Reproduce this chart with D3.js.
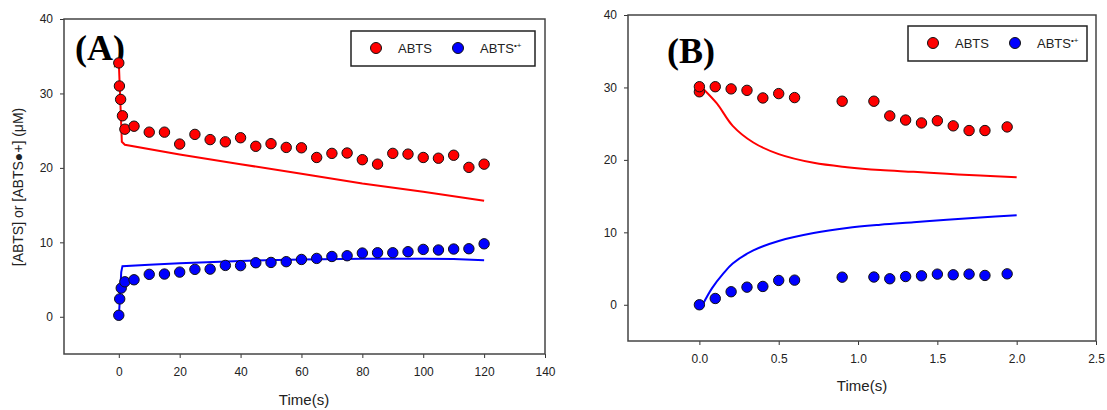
<!DOCTYPE html>
<html>
<head>
<script src="https://d3js.org/d3.v7.min.js"></script>
<style>
    body { margin: 0; background: #fff; }
    svg { font-family: "Liberation Sans", Arial, sans-serif; }
    .axis path { display: none; }
    .axis line { stroke: #333; stroke-width: 1; }
</style>
</head>
<body>
<svg id="chart" width="1107" height="410"></svg>
<script>
// ---- panel A data (time in s, concentration in uM)
var abtsTimeA = [0, 0.2, 0.6, 1.2, 2, 5, 10, 15, 20, 25, 30, 35, 40, 45, 50, 55, 60, 65, 70, 75, 80, 85, 90, 95, 100, 105, 110, 115, 120];
var abtsA = [34.1, 31.0, 29.2, 27.0, 25.2, 25.6, 24.8, 24.8, 23.2, 24.5, 23.8, 23.5, 24.05, 22.9, 23.25, 22.75, 22.7, 21.4, 21.95, 22.0, 21.1, 20.5, 21.95, 21.85, 21.4, 21.3, 21.7, 20.07, 20.5];
var radTimeA = [0, 0.3, 0.8, 2, 5, 10, 15, 20, 25, 30, 35, 40, 45, 50, 55, 60, 65, 70, 75, 80, 85, 90, 95, 100, 105, 110, 115, 120];
var radA = [0.2, 2.4, 3.85, 4.7, 4.97, 5.7, 5.74, 6.0, 6.37, 6.4, 6.9, 6.87, 7.26, 7.3, 7.4, 7.7, 7.84, 8.1, 8.2, 8.56, 8.6, 8.6, 8.74, 9.05, 8.97, 9.1, 9.14, 9.8];
// model curves A
var fitTimeA = [0, 0.5, 1, 2, 20, 40, 60, 80, 100, 120];
var abtsFitA = [34.2, 29, 23.5, 23.1, 21.8, 20.5, 19.2, 17.9, 16.8, 15.6];
var radFitTimeA = [0, 0.3, 0.8, 1.2, 10, 20, 40, 60, 80, 100, 110, 120];
var radFitA = [0, 2, 6, 6.8, 7.0, 7.2, 7.5, 7.7, 7.8, 7.8, 7.75, 7.6];

// ---- panel B data
var abtsTimeB = [0, 0, 0.1, 0.2, 0.3, 0.4, 0.5, 0.6, 0.9, 1.1, 1.2, 1.3, 1.4, 1.5, 1.6, 1.7, 1.8, 1.94];
var abtsB = [29.4, 30.1, 30.1, 29.8, 29.6, 28.55, 29.15, 28.6, 28.1, 28.1, 26.07, 25.5, 25.1, 25.4, 24.7, 24.05, 24.05, 24.55];
var radTimeB = [0, 0.1, 0.2, 0.3, 0.4, 0.5, 0.6, 0.9, 1.1, 1.2, 1.3, 1.4, 1.5, 1.6, 1.7, 1.8, 1.94];
var radB = [0, 0.87, 1.8, 2.43, 2.53, 3.36, 3.4, 3.81, 3.83, 3.59, 3.9, 4.0, 4.23, 4.14, 4.23, 4.05, 4.27];
// model curves B
var abtsFitTimeB = [0.02, 0.11, 0.21, 0.34, 0.5, 0.72, 0.93, 1.14, 1.35, 1.56, 1.77, 2.0];
var abtsFitB = [29.9, 27.8, 24.7, 22.4, 20.8, 19.6, 19.0, 18.6, 18.35, 18.07, 17.84, 17.6];
var radFitTimeB = [0.02, 0.08, 0.15, 0.21, 0.34, 0.5, 0.72, 0.93, 1.14, 1.35, 1.56, 1.77, 2.0];
var radFitB = [0, 2.3, 4.3, 5.7, 7.5, 8.8, 9.9, 10.6, 11.05, 11.4, 11.75, 12.05, 12.37];

var yTicks = [0, 10, 20, 30, 40];
var xTicksA = [0, 20, 40, 60, 80, 100, 120, 140];
var xTicksB = [0, 0.5, 1.0, 1.5, 2.0, 2.5];
var legendLabels = ["ABTS", "ABTS"];

var svg = d3.select("#chart");

function zip(xs, ys) {
    return xs.map(function(x, i) { return [x, ys[i]]; });
}

function panel(p) {
    var g = svg.append("g");
    var x = d3.scaleLinear().domain(p.xDomain).range([p.left, p.right]);
    var y = d3.scaleLinear().domain([-5, 40]).range([p.bottom, p.top]);

    g.append("g")
        .attr("class", "axis")
        .attr("transform", "translate(" + p.left + ",0)")
        .call(d3.axisLeft(y).tickValues(yTicks).tickSize(4).tickPadding(7).tickSizeOuter(0));

    g.append("g")
        .attr("class", "axis")
        .attr("transform", "translate(0," + p.bottom + ")")
        .call(d3.axisBottom(x).tickValues(p.xTicks).tickFormat(d3.format(p.xFormat))
            .tickSize(4).tickPadding(9).tickSizeOuter(0));
    g.selectAll(".axis text").style("font-size", "12px").attr("fill", "#222")
        .style("font-family", "'Liberation Sans', Arial, sans-serif");

    var line = d3.line()
        .x(function(d) { return x(d[0]); })
        .y(function(d) { return y(d[1]); })
        .curve(p.curve);

    g.append("path")
        .attr("d", line(p.redFit))
        .attr("fill", "none").attr("stroke", "#ff0000").attr("stroke-width", 2);
    g.append("path")
        .attr("d", line(p.blueFit))
        .attr("fill", "none").attr("stroke", "#0000ff").attr("stroke-width", 2);

    g.append("text")
        .attr("x", p.tagX).attr("y", p.tagY)
        .style("font-family", "'Liberation Serif', 'Times New Roman', serif")
        .style("font-weight", "bold")
        .style("font-size", "36px")
        .text(p.tag);

    g.selectAll(null).data(p.red).enter().append("circle")
        .attr("cx", function(d) { return x(d[0]); })
        .attr("cy", function(d) { return y(d[1]); })
        .attr("r", 5.2)
        .attr("fill", "#ff0000").attr("stroke", "#111").attr("stroke-width", 1);
    g.selectAll(null).data(p.blue).enter().append("circle")
        .attr("cx", function(d) { return x(d[0]); })
        .attr("cy", function(d) { return y(d[1]); })
        .attr("r", 5.2)
        .attr("fill", "#0000ff").attr("stroke", "#111").attr("stroke-width", 1);

    // frame
    g.append("rect")
        .attr("x", p.left).attr("y", p.top)
        .attr("width", p.right - p.left).attr("height", p.bottom - p.top)
        .attr("fill", "none").attr("stroke", "#444").attr("stroke-width", 1.5);

    // legend
    var lg = g.append("g").attr("transform", "translate(" + p.legX + "," + p.legY + ")");
    lg.append("rect").attr("width", p.legW).attr("height", 35)
        .attr("fill", "#fff").attr("stroke", "#222").attr("stroke-width", 1.5);
    lg.append("circle").attr("cx", 25).attr("cy", 17).attr("r", 5.5)
        .attr("fill", "#ff0000").attr("stroke", "#111");
    lg.append("text").attr("x", 47).attr("y", 21.5).style("font-size", "13px").attr("fill", "#222")
        .text(legendLabels[0]);
    lg.append("circle").attr("cx", 107).attr("cy", 17).attr("r", 5.5)
        .attr("fill", "#0000ff").attr("stroke", "#111");
    var t2 = lg.append("text").attr("x", 129).attr("y", 21.5).style("font-size", "13px").attr("fill", "#222")
        .text(legendLabels[1]);
    t2.append("tspan").attr("dy", -5).style("font-size", "8px").text("\u2022+");

    g.append("text")
        .attr("x", (p.left + p.right) / 2 + p.xLabelShift).attr("y", p.xLabelY)
        .attr("text-anchor", "middle")
        .style("font-size", "15px").attr("fill", "#222")
        .text("Time(s)");
    return g;
}

panel({
    tag: "(A)", tagX: 75, tagY: 60,
    left: 64, right: 545, top: 19, bottom: 354,
    xDomain: [-18, 140], xTicks: xTicksA, xFormat: "d",
    red: zip(abtsTimeA, abtsA), blue: zip(radTimeA, radA),
    redFit: zip(fitTimeA, abtsFitA), blueFit: zip(radFitTimeA, radFitA),
    curve: d3.curveLinear,
    legX: 351, legY: 31, legW: 184,
    xLabelY: 405, xLabelShift: -0.5
});

panel({
    tag: "(B)", tagX: 667, tagY: 63,
    left: 628, right: 1096, top: 15, bottom: 341,
    xDomain: [-0.45, 2.5], xTicks: xTicksB, xFormat: ".1f",
    red: zip(abtsTimeB, abtsB), blue: zip(radTimeB, radB),
    redFit: zip(abtsFitTimeB, abtsFitB), blueFit: zip(radFitTimeB, radFitB),
    curve: d3.curveCatmullRom,
    legX: 908, legY: 26, legW: 179,
    xLabelY: 391, xLabelShift: 0
});

svg.append("text")
    .attr("transform", "translate(18,187) rotate(-90)")
    .attr("text-anchor", "middle")
    .attr("dominant-baseline", "central")
    .style("font-size", "14px").attr("fill", "#222")
    .text("[ABTS] or [ABTS\u25CF+] (\u03BCM)");
</script>
</body>
</html>
